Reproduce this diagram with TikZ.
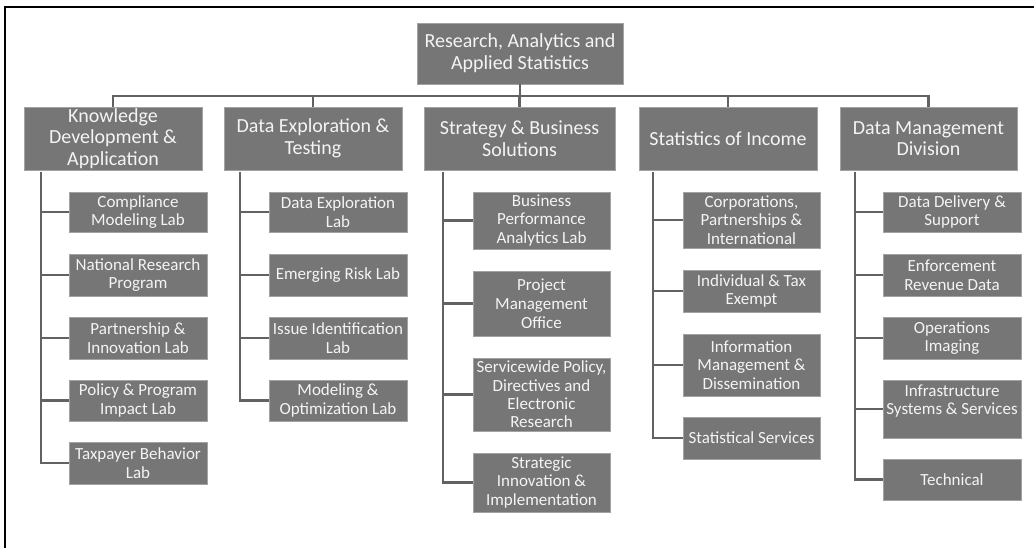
\documentclass[tikz,border=0pt]{standalone}
\usepackage{fontspec}
\setmainfont{Carlito}
\definecolor{boxfill}{HTML}{767676}
\definecolor{boxedge}{HTML}{A3A3A3}
\definecolor{conncol}{HTML}{626262}
\definecolor{txtcol}{HTML}{F4F4F4}
\tikzset{
  box/.style={draw=boxedge, line width=0.8pt, fill=boxfill, text=txtcol, align=center, inner sep=0pt, anchor=center},
  topbox/.style={box, font=\fontsize{20}{22}\selectfont},
  headbox/.style={box, minimum height=63pt, font=\fontsize{20}{21.5}\selectfont},
  subbox/.style={box, font=\fontsize{17}{18.8}\selectfont},
  conn/.style={draw=conncol, line width=2.8pt},
  frameline/.style={draw=black, line width=1.6pt}
}
\begin{document}
\begin{tikzpicture}[x=1pt,y=-1pt]
\useasboundingbox (0,0) rectangle (1034,548);
% frame
\coordinate (fTL) at (5,7);
\coordinate (fBL) at (5,548);
\coordinate (fTR) at (1034,7);
\draw[frameline] (fBL) -- (fTL) -- (fTR);

% top
\node[topbox, minimum width=206pt, minimum height=61pt] (top) at (520,53.5) {Research, Analytics and\\Applied Statistics};

% level 2
\node[headbox, minimum width=178pt] (kd) at (113,138.5) {Knowledge\\Development \&\\Application};
\node[headbox, minimum width=178pt] (de) at (313,138.5) {Data Exploration \&\\Testing};
\node[headbox, minimum width=191pt] (sb) at (519.5,138.5) {Strategy \& Business\\Solutions};
\node[headbox, minimum width=178pt] (si) at (728,138.5) {Statistics of Income};
\node[headbox, minimum width=177pt] (dm) at (928.5,138.5) {Data Management\\Division};

% bus
\coordinate (bus) at (520,96);
\draw[conn] (top.south) -- (bus);
\draw[conn] (kd.north) |- (bus) -| (dm.north);
\draw[conn] (de.north) -- (de.north |- bus);
\draw[conn] (sb.north) -- (sb.north |- bus);
\draw[conn] (si.north) -- (si.north |- bus);

% KD children
\node[subbox, minimum width=138pt, minimum height=40pt] (kd1) at (138,212) {Compliance\\Modeling Lab};
\node[subbox, minimum width=138pt, minimum height=42pt] (kd2) at (138,275) {National Research\\Program};
\node[subbox, minimum width=138pt, minimum height=42pt] (kd3) at (138,338) {Partnership \&\\Innovation Lab};
\node[subbox, minimum width=138pt, minimum height=41pt] (kd4) at (138,400.5) {Policy \& Program\\Impact Lab};
\node[subbox, minimum width=138pt, minimum height=42pt] (kd5) at (138,463) {Taxpayer Behavior\\Lab};

% DE children
\node[subbox, minimum width=138pt, minimum height=40pt] (de1) at (338,212) {Data Exploration\\Lab};
\node[subbox, minimum width=138pt, minimum height=42pt] (de2) at (338,275) {Emerging Risk Lab};
\node[subbox, minimum width=138pt, minimum height=42pt] (de3) at (338,338) {Issue Identification\\Lab};
\node[subbox, minimum width=138pt, minimum height=41pt] (de4) at (338,400.5) {Modeling \&\\Optimization Lab};

% SB children
\node[subbox, minimum width=137pt, minimum height=57pt] (sb1) at (541.5,220.5) {Business\\Performance\\Analytics Lab};
\node[subbox, minimum width=137pt, minimum height=65pt] (sb2) at (541.5,303.5) {Project\\Management\\Office};
\node[subbox, minimum width=137pt, minimum height=73pt, font=\fontsize{17}{18.3}\selectfont] (sb3) at (541.5,394.5) {Servicewide Policy,\\Directives and\\Electronic\\Research};
\node[subbox, minimum width=137pt, minimum height=59pt] (sb4) at (541.5,482.5) {Strategic\\Innovation \&\\Implementation};

% SI children
\node[subbox, minimum width=137pt, minimum height=56pt] (si1) at (751.5,220) {Corporations,\\Partnerships \&\\International};
\node[subbox, minimum width=137pt, minimum height=42pt] (si2) at (751.5,291) {Individual \& Tax\\Exempt};
\node[subbox, minimum width=137pt, minimum height=62pt] (si3) at (751.5,365) {Information\\Management \&\\Dissemination};
\node[subbox, minimum width=137pt, minimum height=42pt] (si4) at (751.5,438) {Statistical Services};

% DM children
\node[subbox, minimum width=138pt, minimum height=40pt] (dm1) at (952,212) {Data Delivery \&\\Support};
\node[subbox, minimum width=138pt, minimum height=42pt] (dm2) at (952,275) {Enforcement\\Revenue Data};
\node[subbox, minimum width=138pt, minimum height=42pt] (dm3) at (952,338) {Operations\\Imaging};
\node[subbox, minimum width=138pt, minimum height=58pt] (dm4) at (952,409) {Infrastructure\\Systems \& Services\\\mbox{}};
\node[subbox, minimum width=138pt, minimum height=41pt] (dm5) at (952,479.5) {Technical};

% child spines
\coordinate (kdv) at (41,172);
\coordinate (dev) at (240,172);
\coordinate (sbv) at (443,172);
\coordinate (siv) at (653,172);
\coordinate (dmv) at (855,172);

\draw[conn] (kdv) |- (kd5.west);
\foreach \c in {kd1,kd2,kd3,kd4} \draw[conn] (\c.west -| kdv) -- (\c.west);
\draw[conn] (dev) |- (de4.west);
\foreach \c in {de1,de2,de3} \draw[conn] (\c.west -| dev) -- (\c.west);
\draw[conn] (sbv) |- (sb4.west);
\foreach \c in {sb1,sb2,sb3} \draw[conn] (\c.west -| sbv) -- (\c.west);
\draw[conn] (siv) |- (si4.west);
\foreach \c in {si1,si2,si3} \draw[conn] (\c.west -| siv) -- (\c.west);
\draw[conn] (dmv) |- (dm5.west);
\foreach \c in {dm1,dm2,dm3,dm4} \draw[conn] (\c.west -| dmv) -- (\c.west);
\end{tikzpicture}
\end{document}
